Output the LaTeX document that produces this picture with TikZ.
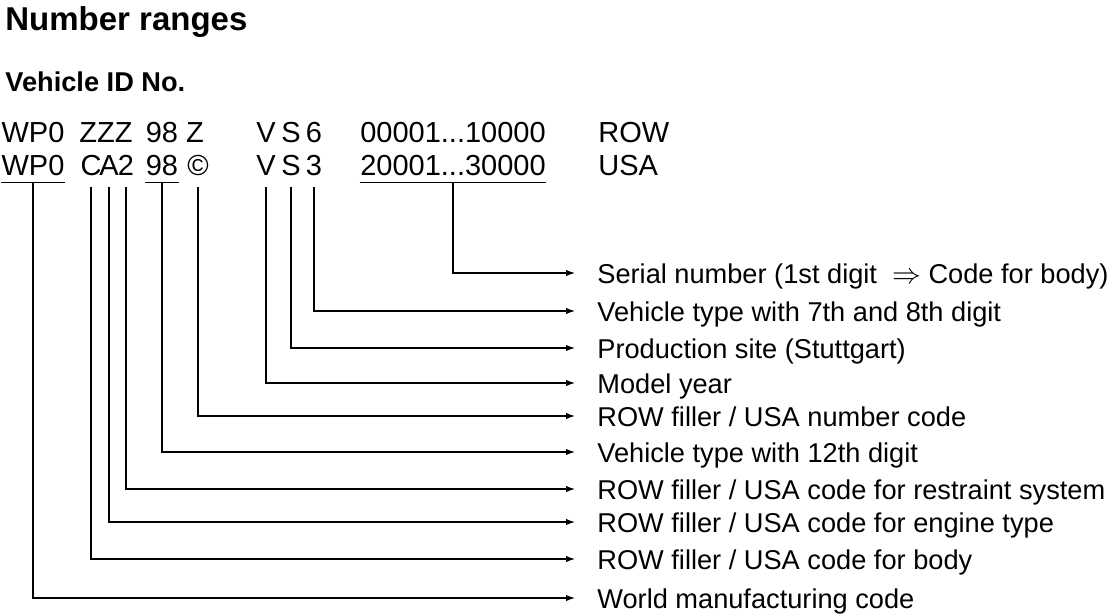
\documentclass[tikz,border=0pt]{standalone}
\usepackage{fontspec}
\setmainfont{Liberation Sans}
\usetikzlibrary{arrows.meta}
\tikzset{
    line/.style={
        line width=0.6pt
    },
    arrow/.style={
        line,
        ->,
        > = {
            Latex[length=4.5pt, width=3.2pt]
        }
    },
    code/.style={
        font=\fontsize{14.5pt}{17pt}\selectfont,
        inner xsep=0pt, inner ysep=3.5pt,
        text height=11pt, text depth=0pt,
        anchor=base
    },
    item/.style={
        font=\fontsize{13.6pt}{16pt}\selectfont,
        inner xsep=11pt, inner ysep=0pt,
        text height=10pt, text depth=0pt,
        anchor=west
    }
}

\begin{document}
\begin{tikzpicture}[x=0.5pt, y=-0.5pt]
    \useasboundingbox (0, 0) rectangle (1120, 616);
    % Headings:
    \node (title) [anchor=base west, inner sep=0pt, font=\fontsize{16.5pt}{19pt}\selectfont\bfseries] at (5, 30) {Number ranges};
    \node (vin) [anchor=base west, inner sep=0pt, font=\fontsize{13.6pt}{16pt}\selectfont\bfseries] at (5, 91) {Vehicle ID No.};
    % ROW code:
    \begin{scope}
        \node [code] (wpa) at (33, 142) {WP0};
        \node [code] (zzz) at (106, 142) {ZZZ};
        \node [code] (ninea) at (162, 142) {98};
        \node [code] (zed) at (195, 142) {Z};
        \node [code] (va) at (266, 142) {V};
        \node [code] (sa) at (291, 142) {S};
        \node [code] (six) at (314, 142) {6};
        \node [code] (rangea) at (453, 142) {00001...10000};
        \node [code, anchor=base west] (row) at (598, 142) {ROW};
    \end{scope}
    % USA code:
    \begin{scope}
        \node [code] (wpb) at (33, 175) {WP0};
        \node [code] (c) at (91, 175) {C};
        \node [code] (a) at (109, 175) {A};
        \node [code] (two) at (126, 175) {2};
        \node [code] (nineb) at (162, 175) {98};
        \node [code] (copy) at (198, 175) {©};
        \node [code] (vb) at (266, 175) {V};
        \node [code] (sb) at (291, 175) {S};
        \node [code] (three) at (314, 175) {3};
        \node [code] (rangeb) at (453, 175) {20001...30000};
        \node [code, anchor=base west] (usa) at (598, 175) {USA};
        % underlines
        \draw [line] (wpb.south west) -- (wpb.south east);
        \draw [line] (nineb.south west) -- (nineb.south east);
        \draw [line] (rangeb.south west) -- (rangeb.south east);
    \end{scope}
    % Labels:
    \begin{scope}
        \node [item] (serial) at (575, 273) {Serial number (1st digit \ $\Rightarrow$ Code for body)};
        \node [item] (type78) at (575, 311) {Vehicle type with 7th and 8th digit};
        \node [item] (site) at (575, 348) {Production site (Stuttgart)};
        \node [item] (year) at (575, 383) {Model year};
        \node [item] (number) at (575, 416) {ROW filler / USA number code};
        \node [item] (type12) at (575, 452) {Vehicle type with 12th digit};
        \node [item] (restraint) at (575, 489) {ROW filler / USA code for restraint system};
        \node [item] (engine) at (575, 522) {ROW filler / USA code for engine type};
        \node [item] (body) at (575, 559) {ROW filler / USA code for body};
        \node [item] (world) at (575, 598) {World manufacturing code};
    \end{scope}
    % Connectors:
    \draw [arrow] (rangeb.south) |- (serial.west);
    \draw [arrow] ([yshift=-2.5pt]three.south) |- (type78.west);
    \draw [arrow] ([yshift=-2.5pt]sb.south) |- (site.west);
    \draw [arrow] ([yshift=-2.5pt]vb.south) |- (year.west);
    \draw [arrow] ([yshift=-2.5pt]copy.south) |- (number.west);
    \draw [arrow] (nineb.south) |- (type12.west);
    \draw [arrow] ([yshift=-2.5pt]two.south) |- (restraint.west);
    \draw [arrow] ([yshift=-2.5pt]a.south) |- (engine.west);
    \draw [arrow] ([yshift=-2.5pt]c.south) |- (body.west);
    \draw [arrow] (wpb.south) |- (world.west);
\end{tikzpicture}
\end{document}
